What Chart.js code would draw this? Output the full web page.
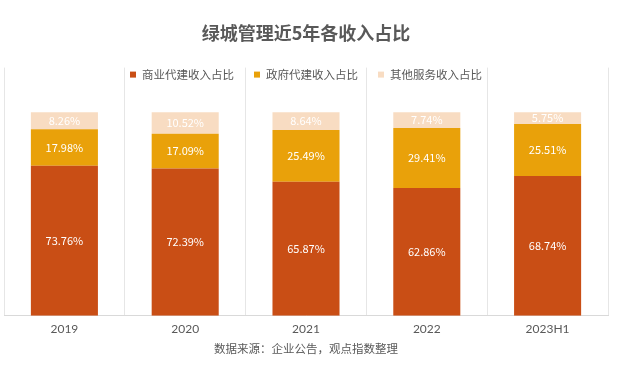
<!DOCTYPE html>
<html>
<head>
<meta charset="utf-8">
<script src="https://cdn.jsdelivr.net/npm/chart.js@4"></script>
<style>
  html, body { margin: 0; padding: 0; background: #fff; }
  #wrap { width: 620px; height: 368px; }
</style>
</head>
<body>
<div id="wrap"><canvas id="shareChart" width="620" height="368"></canvas></div>
<script>
const years = ['2019', '2020', '2021', '2022', '2023H1'];
const commercialShare = [73.76, 72.39, 65.87, 62.86, 68.74];
const governmentShare = [17.98, 17.09, 25.49, 29.41, 25.51];
const otherShare = [8.26, 10.52, 8.64, 7.74, 5.75];

const cjk = '"Noto Sans CJK SC", "Noto Sans", sans-serif';

// white percentage labels centred in each segment
const segmentLabels = {
    id: 'segmentLabels',
    afterDatasetsDraw(chart) {
        const ctx = chart.ctx;
        ctx.save();
        ctx.fillStyle = '#ffffff';
        ctx.font = '11px ' + cjk;
        ctx.textAlign = 'center';
        ctx.textBaseline = 'middle';
        chart.data.datasets.forEach((ds, i) => {
            chart.getDatasetMeta(i).data.forEach((bar, j) => {
                const y = (bar.y + bar.base) / 2;
                ctx.fillText(ds.data[j].toFixed(2) + '%', bar.x, y);
            });
        });
        ctx.restore();
    }
};

// legend drawn inside the top of the plot area, like the excel original
const topLegend = {
    id: 'topLegend',
    afterDraw(chart) {
        const ctx = chart.ctx;
        const area = chart.chartArea;
        const box = 6, gap = 6, spacing = 20;
        ctx.save();
        ctx.font = '11.5px ' + cjk;
        ctx.textBaseline = 'middle';
        const items = chart.data.datasets.map(ds => ({
            text: ds.label,
            color: ds.backgroundColor,
            w: box + gap + ctx.measureText(ds.label).width
        }));
        const total = items.reduce((s, it) => s + it.w, 0) + spacing * (items.length - 1);
        let x = (area.left + area.right) / 2 - total / 2;
        const y = area.top + 7;
        items.forEach(it => {
            ctx.fillStyle = it.color;
            ctx.fillRect(x, y - box / 2, box, box);
            ctx.fillStyle = '#595959';
            ctx.fillText(it.text, x + box + gap, y);
            x += it.w + spacing;
        });
        ctx.restore();
    }
};

const ctx = document.getElementById('shareChart').getContext('2d');
const shareChart = new Chart(ctx, {
    type: 'bar',
    data: {
        labels: years,
        datasets: [
            { label: '商业代建收入占比', data: commercialShare, backgroundColor: '#C94E15' },
            { label: '政府代建收入占比', data: governmentShare, backgroundColor: '#E9A10A' },
            { label: '其他服务收入占比', data: otherShare, backgroundColor: '#F8DCC2' }
        ]
    },
    options: {
        responsive: false,
        animation: false,
        layout: { padding: { left: 4, right: 12, top: 0, bottom: 12 } },
        datasets: {
            bar: { categoryPercentage: 1, barPercentage: 0.555 }
        },
        scales: {
            x: {
                stacked: true,
                grid: { display: true, offset: true, color: '#e6e6e6', drawTicks: false },
                border: { display: true, color: '#d9d9d9' },
                ticks: { color: '#595959', font: { size: 12, family: 'Lato, "Noto Sans", sans-serif' }, padding: 6 }
            },
            y: {
                stacked: true,
                display: false,
                min: 0,
                max: 122
            }
        },
        plugins: {
            title: {
                display: true,
                text: '绿城管理近5年各收入占比',
                color: '#595959',
                font: { size: 18, weight: 'bold', family: cjk },
                padding: { top: 22, bottom: 24 }
            },
            subtitle: {
                display: true,
                position: 'bottom',
                text: '数据来源：企业公告，观点指数整理',
                color: '#595959',
                font: { size: 11.5, family: cjk },
                padding: { top: 0, bottom: 0 }
            },
            legend: { display: false },
            tooltip: { enabled: false }
        }
    },
    plugins: [segmentLabels, topLegend]
});
</script>
</body>
</html>
